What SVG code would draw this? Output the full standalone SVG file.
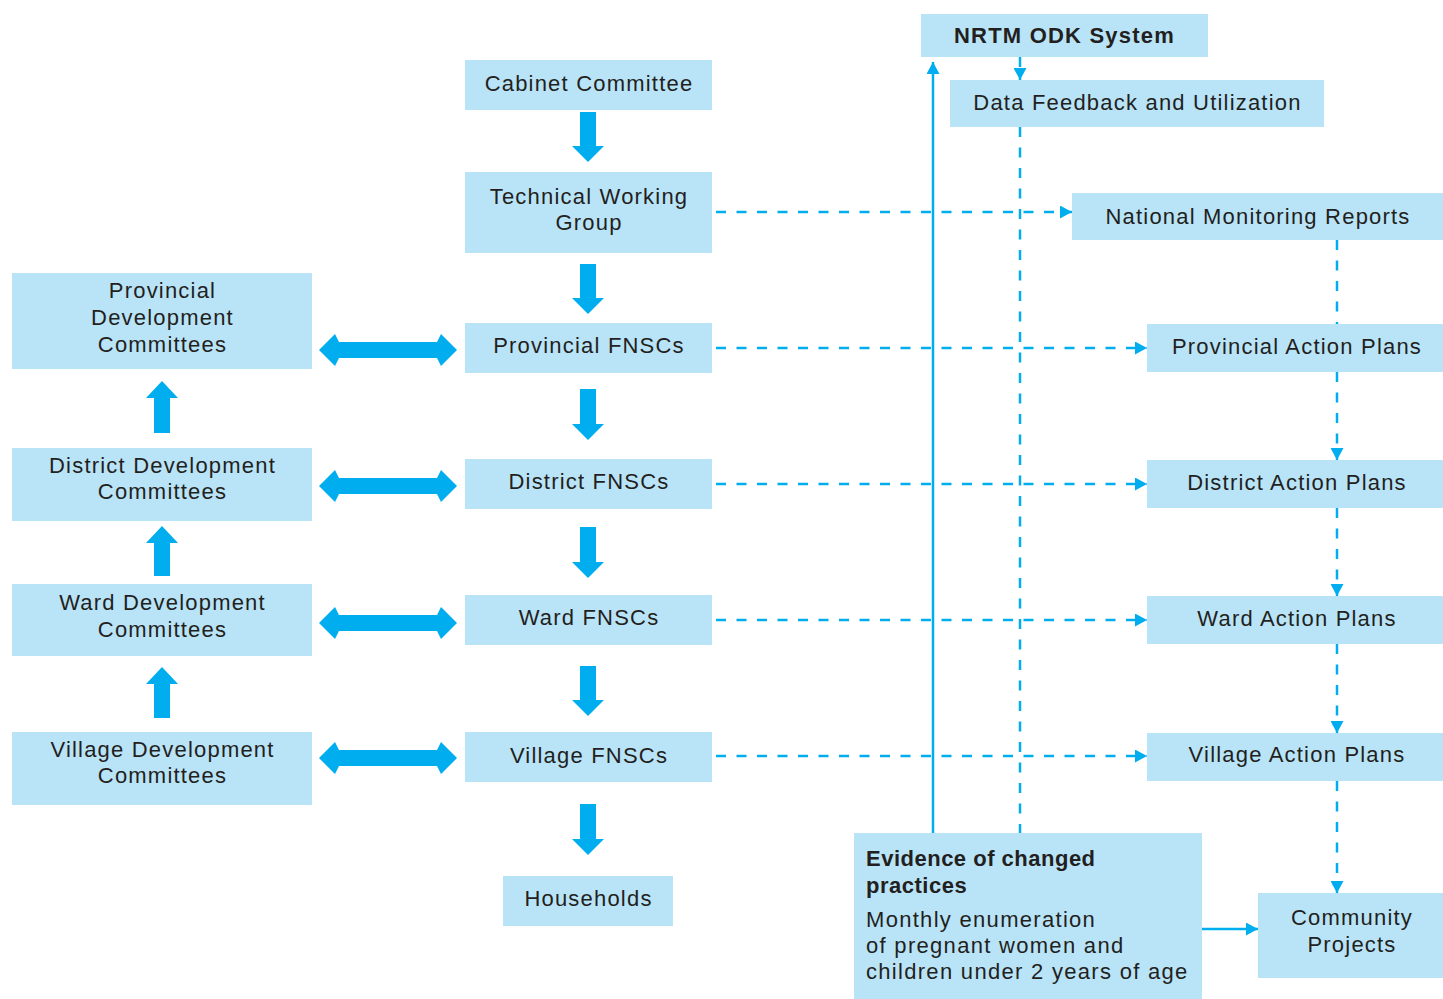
<svg xmlns="http://www.w3.org/2000/svg" width="1443" height="999" viewBox="0 0 1443 999">
<defs>
<style>
.box{fill:#b9e4f8;}
.t{font-family:"Liberation Sans",Arial,sans-serif;font-size:22px;letter-spacing:1.2px;fill:#231f20;text-anchor:middle;}
.tl{font-family:"Liberation Sans",Arial,sans-serif;font-size:22px;letter-spacing:1.3px;fill:#231f20;}
.b{font-weight:bold;letter-spacing:0.5px;}
.b2{font-weight:bold;letter-spacing:1.2px;}
.fat{fill:#00aeef;}
.dash{stroke:#00aeef;stroke-width:2.5;fill:none;stroke-dasharray:10 10.5;}
.solid{stroke:#00aeef;stroke-width:2.5;fill:none;}
</style>
<marker id="ah" viewBox="0 0 12 13" refX="12" refY="6.5" markerWidth="12" markerHeight="13" markerUnits="userSpaceOnUse" orient="auto">
<path d="M0,0 L12,6.5 L0,13 Z" fill="#00aeef"/>
</marker>
</defs>
<rect width="1443" height="999" fill="#ffffff"/>

<g id="connectors">
<!-- thick down arrows -->
<polygon class="fat" points="580,112 596,112 596,146 604,146 588,162 572,146 580,146"/>
<polygon class="fat" points="580,264 596,264 596,298 604,298 588,314 572,298 580,298"/>
<polygon class="fat" points="580,389 596,389 596,424 604,424 588,440 572,424 580,424"/>
<polygon class="fat" points="580,527 596,527 596,562 604,562 588,578 572,562 580,562"/>
<polygon class="fat" points="580,666 596,666 596,700 604,700 588,716 572,700 580,700"/>
<polygon class="fat" points="580,804 596,804 596,839 604,839 588,855 572,839 580,839"/>
<!-- thick up arrows -->
<polygon class="fat" points="154,433 170,433 170,398 178,398 162,381 146,398 154,398"/>
<polygon class="fat" points="154,576 170,576 170,543 178,543 162,526 146,543 154,543"/>
<polygon class="fat" points="154,718 170,718 170,684 178,684 162,667 146,684 154,684"/>
<!-- double arrows -->
<polygon class="fat" points="319,350 335,334 339,342 437,342 441,334 457,350 441,366 437,358 339,358 335,366"/>
<polygon class="fat" points="319,486 335,470 339,478 437,478 441,470 457,486 441,502 437,494 339,494 335,502"/>
<polygon class="fat" points="319,623 335,607 339,615 437,615 441,607 457,623 441,639 437,631 339,631 335,639"/>
<polygon class="fat" points="319,758 335,742 339,750 437,750 441,742 457,758 441,774 437,766 339,766 335,774"/>
<!-- dashed horizontals -->
<line class="dash" x1="716" y1="212" x2="1072" y2="212" marker-end="url(#ah)"/>
<line class="dash" x1="716" y1="348" x2="1147" y2="348" marker-end="url(#ah)"/>
<line class="dash" x1="716" y1="484" x2="1147" y2="484" marker-end="url(#ah)"/>
<line class="dash" x1="716" y1="620" x2="1147" y2="620" marker-end="url(#ah)"/>
<line class="dash" x1="716" y1="756" x2="1147" y2="756" marker-end="url(#ah)"/>
<!-- NRTM to Data Feedback -->
<line class="dash" x1="1020" y1="57" x2="1020" y2="80" marker-end="url(#ah)"/>
<!-- Data Feedback down to Evidence -->
<line class="dash" x1="1020" y1="127" x2="1020" y2="833"/>
<!-- Evidence up to NRTM -->
<line class="solid" x1="933" y1="833" x2="933" y2="62" marker-end="url(#ah)"/>
<!-- right column dashed verticals -->
<line class="dash" x1="1337" y1="240" x2="1337" y2="324"/>
<line class="dash" x1="1337" y1="372" x2="1337" y2="460" marker-end="url(#ah)"/>
<line class="dash" x1="1337" y1="508" x2="1337" y2="596" marker-end="url(#ah)"/>
<line class="dash" x1="1337" y1="644" x2="1337" y2="733" marker-end="url(#ah)"/>
<line class="dash" x1="1337" y1="781" x2="1337" y2="893" marker-end="url(#ah)"/>
<!-- Evidence to Community Projects -->
<line class="solid" x1="1202" y1="929" x2="1258" y2="929" marker-end="url(#ah)"/>
</g>

<g id="nrtm">
<rect class="box" x="921" y="14" width="287" height="43"/>
<text class="t b2" x="1064.5" y="43">NRTM ODK System</text>
</g>
<g id="data-feedback">
<rect class="box" x="950" y="80" width="374" height="47"/>
<text class="t" x="1137.5" y="110">Data Feedback and Utilization</text>
</g>
<g id="cabinet">
<rect class="box" x="465" y="60" width="247" height="50"/>
<text class="t" x="589" y="91">Cabinet Committee</text>
</g>
<g id="twg">
<rect class="box" x="465" y="172" width="247" height="81"/>
<text class="t" x="589" y="204">Technical Working</text>
<text class="t" x="589" y="230">Group</text>
</g>
<g id="national-reports">
<rect class="box" x="1072" y="193" width="371" height="47"/>
<text class="t" x="1258" y="224">National Monitoring Reports</text>
</g>
<g id="prov-dev">
<rect class="box" x="12" y="273" width="300" height="96"/>
<text class="t" x="162.5" y="298">Provincial</text>
<text class="t" x="162.5" y="325">Development</text>
<text class="t" x="162.5" y="352">Committees</text>
</g>
<g id="prov-fnsc">
<rect class="box" x="465" y="323" width="247" height="50"/>
<text class="t" x="589" y="353">Provincial FNSCs</text>
</g>
<g id="prov-plans">
<rect class="box" x="1147" y="324" width="296" height="48"/>
<text class="t" x="1297" y="354">Provincial Action Plans</text>
</g>
<g id="dist-dev">
<rect class="box" x="12" y="448" width="300" height="73"/>
<text class="t" x="162.5" y="473">District Development</text>
<text class="t" x="162.5" y="499">Committees</text>
</g>
<g id="dist-fnsc">
<rect class="box" x="465" y="459" width="247" height="50"/>
<text class="t" x="589" y="489">District FNSCs</text>
</g>
<g id="dist-plans">
<rect class="box" x="1147" y="460" width="296" height="48"/>
<text class="t" x="1297" y="490">District Action Plans</text>
</g>
<g id="ward-dev">
<rect class="box" x="12" y="584" width="300" height="72"/>
<text class="t" x="162.5" y="610">Ward Development</text>
<text class="t" x="162.5" y="637">Committees</text>
</g>
<g id="ward-fnsc">
<rect class="box" x="465" y="595" width="247" height="50"/>
<text class="t" x="589" y="625">Ward FNSCs</text>
</g>
<g id="ward-plans">
<rect class="box" x="1147" y="596" width="296" height="48"/>
<text class="t" x="1297" y="626">Ward Action Plans</text>
</g>
<g id="village-dev">
<rect class="box" x="12" y="732" width="300" height="73"/>
<text class="t" x="162.5" y="757">Village Development</text>
<text class="t" x="162.5" y="783">Committees</text>
</g>
<g id="village-fnsc">
<rect class="box" x="465" y="732" width="247" height="50"/>
<text class="t" x="589" y="763">Village FNSCs</text>
</g>
<g id="village-plans">
<rect class="box" x="1147" y="733" width="296" height="48"/>
<text class="t" x="1297" y="762">Village Action Plans</text>
</g>
<g id="households">
<rect class="box" x="503" y="876" width="170" height="50"/>
<text class="t" x="588.5" y="906">Households</text>
</g>
<g id="evidence">
<rect class="box" x="854" y="833" width="348" height="166"/>
<text class="tl b" x="866" y="866">Evidence of changed</text>
<text class="tl b" x="866" y="893">practices</text>
<text class="tl" x="866" y="927">Monthly enumeration</text>
<text class="tl" x="866" y="953">of pregnant women and</text>
<text class="tl" x="866" y="979">children under 2 years of age</text>
</g>
<g id="community">
<rect class="box" x="1258" y="893" width="185" height="85"/>
<text class="t" x="1352" y="925">Community</text>
<text class="t" x="1352" y="952">Projects</text>
</g>
</svg>
